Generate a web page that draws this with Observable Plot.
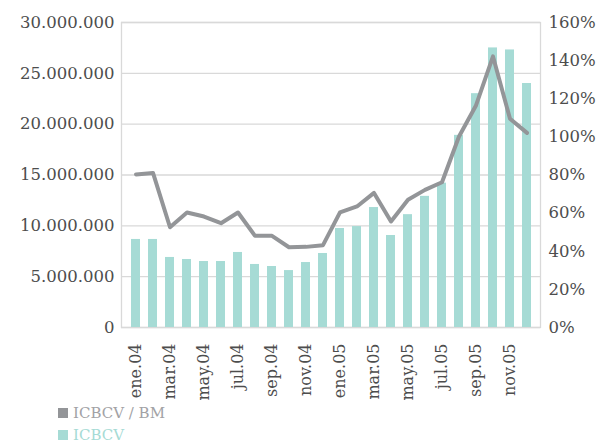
<!DOCTYPE html>
<html><head><meta charset="utf-8">
<script src="https://cdn.jsdelivr.net/npm/d3@7"></script>
<script src="https://cdn.jsdelivr.net/npm/@observablehq/plot@0.6"></script>
<style>
body{margin:0;background:#fff;font-family:"DejaVu Serif",serif;}
#chart{position:relative;width:597px;height:443px;overflow:hidden;}
#legend{position:absolute;left:58px;top:402px;font-size:15px;line-height:18px;}
.row{display:flex;align-items:center;height:22px;}
.sw{width:10px;height:10px;margin-right:5px;}
</style>
</head><body><div id="chart"></div>
<script>
const months = ["ene.04","feb.04","mar.04","abr.04","may.04","jun.04","jul.04","ago.04","sep.04","oct.04","nov.04","dic.04",
                "ene.05","feb.05","mar.05","abr.05","may.05","jun.05","jul.05","ago.05","sep.05","oct.05","nov.05","dic.05"];
const icbcv = [8.66e6,8.66e6,6.89e6,6.69e6,6.49e6,6.49e6,7.38e6,6.2e6,6.0e6,5.6e6,6.39e6,7.28e6,
               9.74e6,9.93e6,11.8e6,9.05e6,11.1e6,12.9e6,14.2e6,18.9e6,23.0e6,27.5e6,27.3e6,24.0e6];
const ratioPct = [80.3,81.1,52.6,60.3,58.2,54.7,60.3,48.1,48.1,42.1,42.3,43.2,
                  60.4,63.5,70.6,55.6,67,72.2,76.2,100.2,116.5,142.2,109.5,102.1];
const leftTicks = [0,5e6,10e6,15e6,20e6,25e6,30e6];
const rightTicks = [0,20,40,60,80,100,120,140,160];
const xTickLabels = months.filter((d,i)=>i%2===0);
const seriesNames = ["ICBCV / BM","ICBCV"];
const seriesColors = ["#939598","#a6dbd5"];
const legendTextColors = ["#a2a2a5","#a6dbd5"];

const Y_MAX = 30e6, P_MAX = 160;
const toLeft = p => p * Y_MAX / P_MAX;
const data = months.map((m,i)=>({m, v: icbcv[i], p: ratioPct[i]}));
const fmt = d3.formatLocale({decimal:",",thousands:".",grouping:[3],currency:["",""]}).format(",");

const plot = Plot.plot({
  width:597, height:402, marginLeft:121, marginRight:57, marginTop:22, marginBottom:75,
  style:{fontFamily:"DejaVu Serif", fontSize:"16.5px", color:"#4d4d4d", background:"transparent"},
  x:{domain: months, paddingInner:0.48, paddingOuter:0.24, axis:null, label:null},
  y:{domain:[0,Y_MAX], axis:null, label:null},
  marks:[
    Plot.gridY(leftTicks, {stroke:"#d9d9d9", strokeOpacity:1, strokeWidth:1.3}),
    Plot.frame({stroke:"#d9d9d9", strokeWidth:1.3}),
    Plot.barY(data, {x:"m", y:"v", fill:seriesColors[1]}),
    Plot.line(data, {x:"m", y:d=>toLeft(d.p), stroke:seriesColors[0], strokeWidth:4, strokeLinejoin:"round"}),
    Plot.axisY(leftTicks, {anchor:"left", tickSize:0, tickPadding:7, tickFormat:fmt, label:null}),
    Plot.axisY(rightTicks.map(toLeft), {anchor:"right", tickSize:0, tickPadding:8, label:null,
      tickFormat:d=>Math.round(d*P_MAX/Y_MAX)+"%"}),
    Plot.axisX(xTickLabels, {anchor:"bottom", tickSize:0, tickPadding:16, tickRotate:-90, label:null, fontSize:16})
  ]
});
const chart = document.getElementById("chart");
chart.appendChild(plot);
const legend = document.createElement("div");
legend.id = "legend";
seriesNames.forEach((n,i)=>{
  const r = document.createElement("div"); r.className="row";
  const sw = document.createElement("span"); sw.className="sw"; sw.style.background=seriesColors[i];
  const t = document.createElement("span"); t.textContent=n; t.style.color=legendTextColors[i];
  r.appendChild(sw); r.appendChild(t); legend.appendChild(r);
});
chart.appendChild(legend);
</script>
</body></html>
